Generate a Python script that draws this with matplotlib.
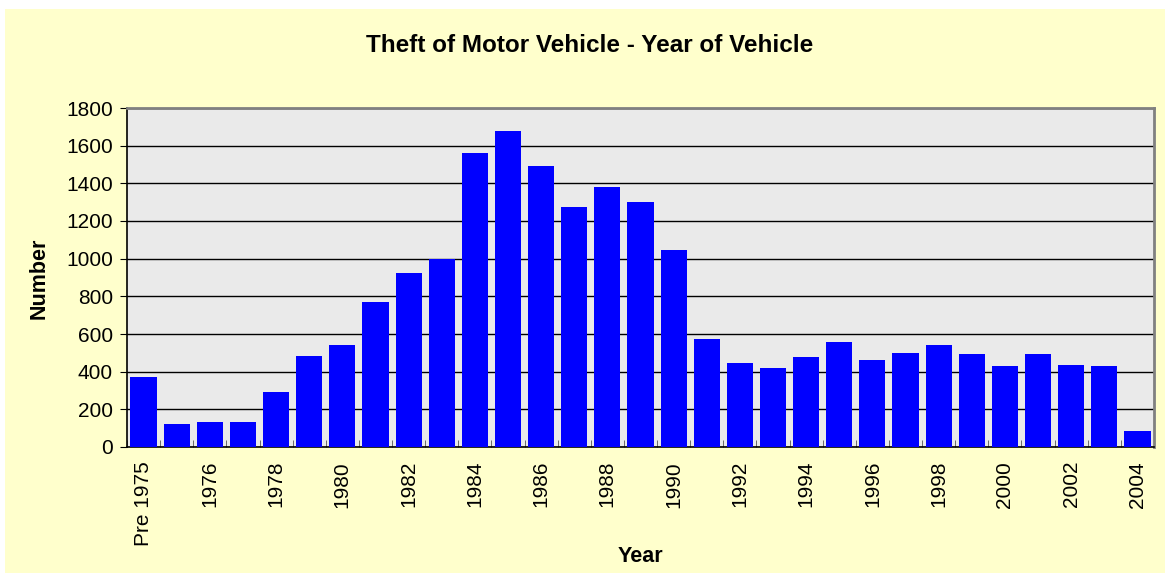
import matplotlib
matplotlib.use("Agg")
import matplotlib.pyplot as plt
from matplotlib.patches import Rectangle
import numpy as np

plt.rcParams["font.family"] = ["Liberation Sans", "DejaVu Sans"]

YEARS = ["Pre 1975"] + [str(y) for y in range(1975, 2005)]
COUNTS = [370, 120, 135, 135, 290, 485, 540, 772, 926, 998,
          1563, 1680, 1494, 1276, 1382, 1302, 1048, 575, 448, 421,
          480, 555, 464, 501, 543, 495, 432, 495, 437, 432, 87]
TITLE = "Theft of Motor Vehicle - Year of Vehicle"

W, H = 1165, 573
fig = plt.figure(figsize=(W / 100, H / 100), dpi=100, facecolor="white")

# yellow chart area, small white margin top/left
fig.patches.append(Rectangle((5 / W, 0), 1 - 5 / W, 1 - 9 / H,
                             transform=fig.transFigure, facecolor="#FFFFCC",
                             edgecolor="none", zorder=-10))

left, right, top, bottom = 127, 1154, 108, 447
ax = fig.add_axes([left / W, 1 - bottom / H, (right - left) / W, (bottom - top) / H])
ax.set_facecolor("#EAEAEA")

x = np.arange(len(YEARS))
ax.bar(x, COUNTS, width=0.79, color="#0000FF", zorder=3)

ax.set_xlim(-0.5, len(YEARS) - 0.5)
ax.set_ylim(0, 1800)
ax.set_yticks(range(0, 1801, 200))
ax.yaxis.grid(True, color="black", linewidth=1.0, zorder=1)
ax.set_axisbelow(True)

ax.set_xticks(x[::2])
ax.set_xticklabels(YEARS[::2], rotation=90, fontsize=15)
ax.tick_params(axis="x", length=0, pad=10)
ax.set_xticks(np.arange(len(YEARS) + 1) - 0.5, minor=True)
ax.tick_params(axis="x", which="minor", direction="in", length=5, color="#555555")
ax.tick_params(axis="y", labelsize=15, length=5, direction="out", pad=5)

for side in ("top", "right"):
    ax.spines[side].set_color("#808080")
    ax.spines[side].set_linewidth(2)
for side in ("left", "bottom"):
    ax.spines[side].set_color("black")
    ax.spines[side].set_linewidth(1.2)

fig.text(590 / W, 1 - 46 / H, TITLE, ha="center", va="center",
         fontsize=17.5, fontweight="bold")
fig.text(640 / W, 1 - 556 / H, "Year", ha="center", va="center",
         fontsize=15.5, fontweight="bold")
fig.text(39 / W, 1 - 278 / H, "Number", ha="center", va="center",
         rotation=90, fontsize=15.5, fontweight="bold")

fig.savefig("out.png", dpi=100, facecolor=fig.get_facecolor())
